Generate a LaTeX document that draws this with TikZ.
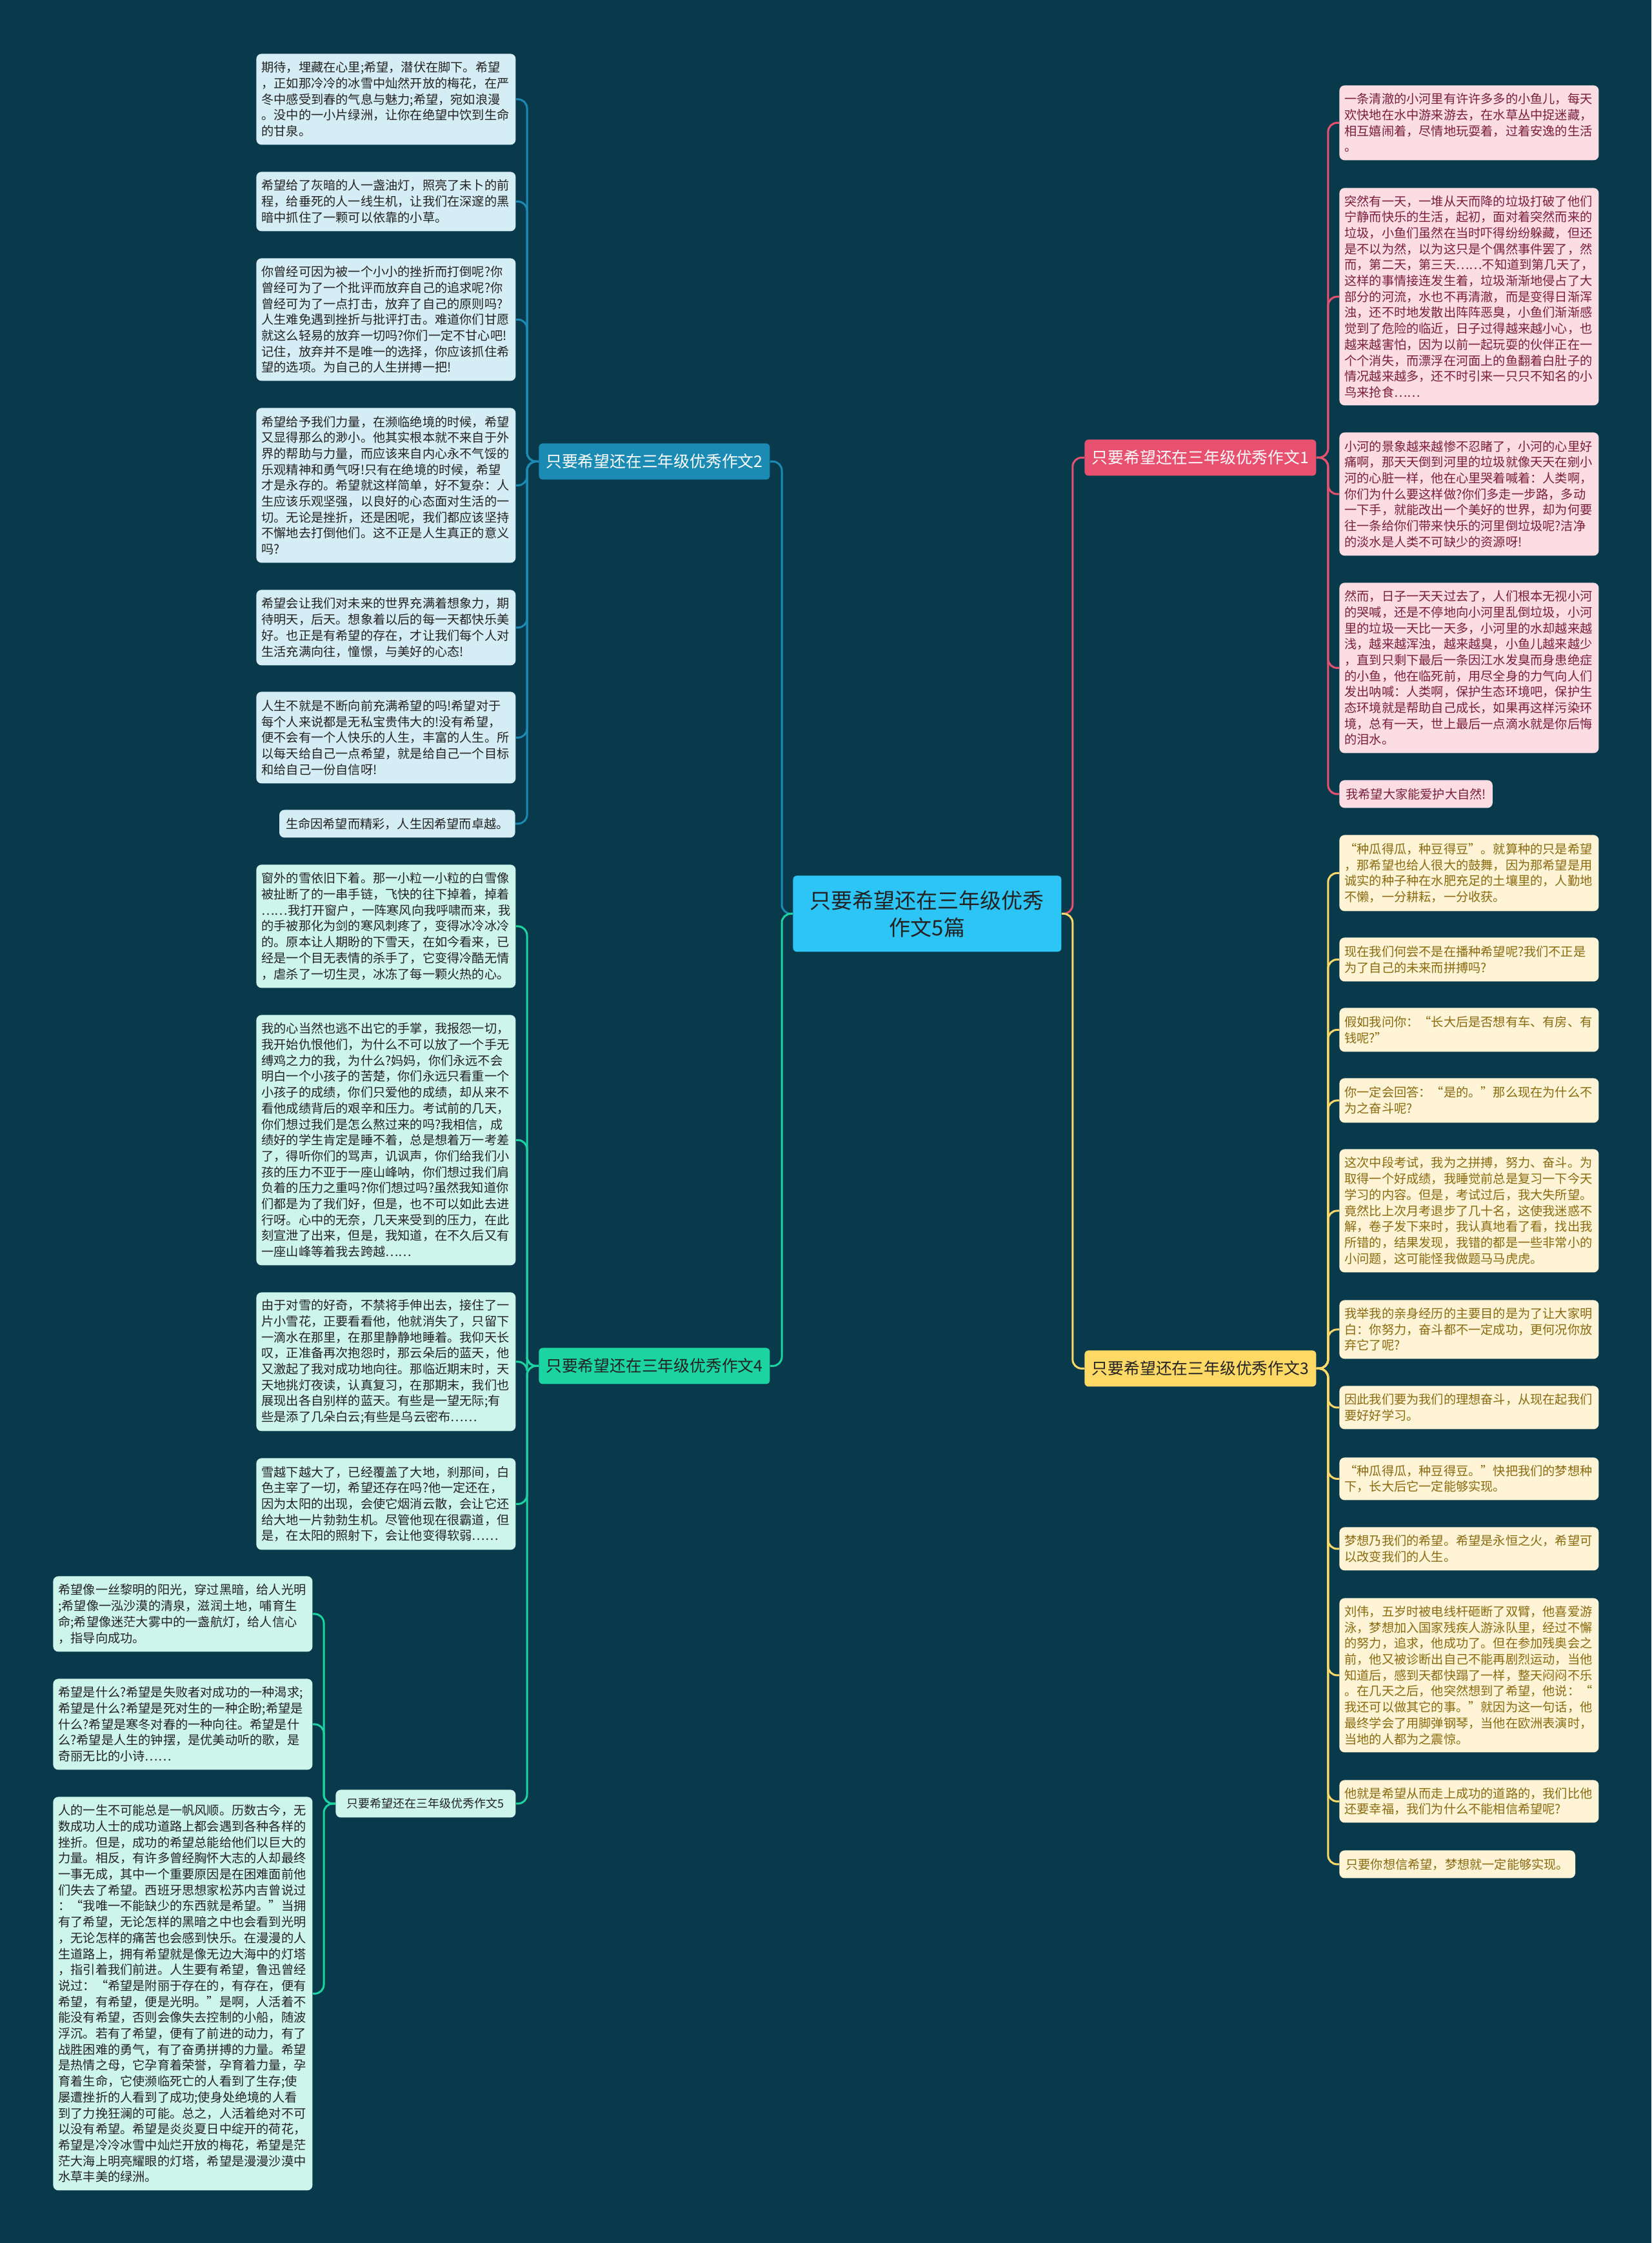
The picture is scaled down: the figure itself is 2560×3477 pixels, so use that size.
\documentclass[tikz,border=0pt]{standalone}
\usepackage{fontspec}
\setmainfont{Noto Sans CJK SC}
\definecolor{bg}{HTML}{093A4B}
\definecolor{cc}{HTML}{2DC5F5}
\definecolor{bl}{HTML}{1B8BB4}
\definecolor{blf}{HTML}{D5EDF4}
\definecolor{pk}{HTML}{E8506F}
\definecolor{pkf}{HTML}{FCDDE3}
\definecolor{pkt}{HTML}{7A1E3E}
\definecolor{yl}{HTML}{FFD966}
\definecolor{ylf}{HTML}{FFF4D6}
\definecolor{ylt}{HTML}{8A6A10}
\definecolor{gr}{HTML}{1BD4A1}
\definecolor{grf}{HTML}{CDF5EC}
\definecolor{dk}{HTML}{222222}
\tikzset{
 leafbox/.style={rounded corners=4pt, inner xsep=4pt, inner ysep=0pt, text width=193pt, align=left, font=\fontsize{9.6}{12.35}\selectfont},
 leafone/.style={rounded corners=4pt, inner xsep=5pt, inner ysep=0pt, font=\fontsize{9.6}{12.35}\selectfont},
 lb/.style={fill=blf, text=dk},
 lp/.style={fill=pkf, text=pkt},
 ly/.style={fill=ylf, text=ylt},
 lg/.style={fill=grf, text=dk},
 branch/.style={rounded corners=3pt, inner sep=0pt, minimum width=179pt, minimum height=28pt, font=\fontsize{12.4}{15}\selectfont, anchor=north west},
 conn/.style={line width=1.5pt, rounded corners=7pt},
}
\newcommand{\leafnode}[6]{\node[leafbox,#1,minimum height={(#5-#4)*0.5pt},anchor=north west] (#2) at (#3,#4) {#6};}
\begin{document}
\begin{tikzpicture}[x=0.5pt,y=-0.5pt]
\useasboundingbox (0,0) rectangle (2560,3477);
\fill[bg] (0,0) rectangle (2560,3477);

% center
\node[fill=cc, rounded corners=3pt, minimum width=208pt, minimum height=59pt, anchor=north west, align=center, font=\fontsize{16.5}{21}\selectfont, text=dk, inner sep=0pt] (c) at (1229,1357) {只要希望还在三年级优秀\\作文5篇};

% branches
\node[branch, fill=bl, text=white] (b2l) at (835,687) {只要希望还在三年级优秀作文2};
\node[branch, fill=gr, text=dk] (b4l) at (835,2089) {只要希望还在三年级优秀作文4};
\node[branch, fill=pk, text=white, minimum width=179.5pt] (b1l) at (1681,681) {只要希望还在三年级优秀作文1};
\node[branch, fill=yl, text=dk, minimum width=179.5pt] (b3l) at (1681,2093) {只要希望还在三年级优秀作文3};

% branch 2 leaves
\leafnode{lb}{a1}{397}{83}{224}{期待，埋藏在心里;希望，潜伏在脚下。希望\\，正如那冷冷的冰雪中灿然开放的梅花，在严\\冬中感受到春的气息与魅力;希望，宛如浪漫\\。没中的一小片绿洲，让你在绝望中饮到生命\\的甘泉。}
\leafnode{lb}{a2}{397}{266}{358}{希望给了灰暗的人一盏油灯，照亮了未卜的前\\程，给垂死的人一线生机，让我们在深邃的黑\\暗中抓住了一颗可以依靠的小草。}
\leafnode{lb}{a3}{397}{400}{590}{你曾经可因为被一个小小的挫折而打倒呢?你\\曾经可为了一个批评而放弃自己的追求呢?你\\曾经可为了一点打击，放弃了自己的原则吗?\\人生难免遇到挫折与批评打击。难道你们甘愿\\就这么轻易的放弃一切吗?你们一定不甘心吧!\\记住，放弃并不是唯一的选择，你应该抓住希\\望的选项。为自己的人生拼搏一把!}
\leafnode{lb}{a4}{397}{632}{872}{希望给予我们力量，在濒临绝境的时候，希望\\又显得那么的渺小。他其实根本就不来自于外\\界的帮助与力量，而应该来自内心永不气馁的\\乐观精神和勇气呀!只有在绝境的时候，希望\\才是永存的。希望就这样简单，好不复杂：人\\生应该乐观坚强，以良好的心态面对生活的一\\切。无论是挫折，还是困呢，我们都应该坚持\\不懈地去打倒他们。这不正是人生真正的意义\\吗?}
\leafnode{lb}{a5}{397}{914}{1031}{希望会让我们对未来的世界充满着想象力，期\\待明天，后天。想象着以后的每一天都快乐美\\好。也正是有希望的存在，才让我们每个人对\\生活充满向往，憧憬，与美好的心态!}
\leafnode{lb}{a6}{397}{1072}{1214}{人生不就是不断向前充满希望的吗!希望对于\\每个人来说都是无私宝贵伟大的!没有希望，\\便不会有一个人快乐的人生，丰富的人生。所\\以每天给自己一点希望，就是给自己一个目标\\和给自己一份自信呀!}
\node[leafone, lb, minimum height=21.5pt, anchor=north east] (a7) at (799,1255) {生命因希望而精彩，人生因希望而卓越。};

% branch 4 leaves
\leafnode{lg}{b1}{397}{1340}{1531}{窗外的雪依旧下着。那一小粒一小粒的白雪像\\被扯断了的一串手链，飞快的往下掉着，掉着\\……我打开窗户，一阵寒风向我呼啸而来，我\\的手被那化为剑的寒风刺疼了，变得冰冷冰冷\\的。原本让人期盼的下雪天，在如今看来，已\\经是一个目无表情的杀手了，它变得冷酷无情\\，虐杀了一切生灵，冰冻了每一颗火热的心。}
\leafnode{lg}{b2}{397}{1573}{1961}{我的心当然也逃不出它的手掌，我报怨一切，\\我开始仇恨他们，为什么不可以放了一个手无\\缚鸡之力的我，为什么?妈妈，你们永远不会\\明白一个小孩子的苦楚，你们永远只看重一个\\小孩子的成绩，你们只爱他的成绩，却从来不\\看他成绩背后的艰辛和压力。考试前的几天，\\你们想过我们是怎么熬过来的吗?我相信，成\\绩好的学生肯定是睡不着，总是想着万一考差\\了，得听你们的骂声，讥讽声，你们给我们小\\孩的压力不亚于一座山峰呐，你们想过我们肩\\负着的压力之重吗?你们想过吗?虽然我知道你\\们都是为了我们好，但是，也不可以如此去进\\行呀。心中的无奈，几天来受到的压力，在此\\刻宣泄了出来，但是，我知道，在不久后又有\\一座山峰等着我去跨越……}
\leafnode{lg}{b3}{397}{2003}{2218}{由于对雪的好奇，不禁将手伸出去，接住了一\\片小雪花，正要看看他，他就消失了，只留下\\一滴水在那里，在那里静静地睡着。我仰天长\\叹，正准备再次抱怨时，那云朵后的蓝天，他\\又激起了我对成功地向往。那临近期末时，天\\天地挑灯夜读，认真复习，在那期末，我们也\\展现出各自别样的蓝天。有些是一望无际;有\\些是添了几朵白云;有些是乌云密布……}
\leafnode{lg}{b4}{397}{2260}{2402}{雪越下越大了，已经覆盖了大地，刹那间，白\\色主宰了一切，希望还存在吗?他一定还在，\\因为太阳的出现，会使它烟消云散，会让它还\\给大地一片勃勃生机。尽管他现在很霸道，但\\是，在太阳的照射下，会让他变得软弱……}
\node[leafone, lg, minimum height=21.5pt, minimum width=139.5pt, anchor=north west, font=\fontsize{9}{11}\selectfont] (b5l) at (520,2774) {只要希望还在三年级优秀作文5};

% branch 5 leaves
\leafnode{lg}{c1}{82}{2443}{2560}{希望像一丝黎明的阳光，穿过黑暗，给人光明\\;希望像一泓沙漠的清泉，滋润土地，哺育生\\命;希望像迷茫大雾中的一盏航灯，给人信心\\，指导向成功。}
\leafnode{lg}{c2}{82}{2602}{2743}{希望是什么?希望是失败者对成功的一种渴求;\\希望是什么?希望是死对生的一种企盼;希望是\\什么?希望是寒冬对春的一种向往。希望是什\\么?希望是人生的钟摆，是优美动听的歌，是\\奇丽无比的小诗……}
\leafnode{lg}{c3}{82}{2785}{3395}{人的一生不可能总是一帆风顺。历数古今，无\\数成功人士的成功道路上都会遇到各种各样的\\挫折。但是，成功的希望总能给他们以巨大的\\力量。相反，有许多曾经胸怀大志的人却最终\\一事无成，其中一个重要原因是在困难面前他\\们失去了希望。西班牙思想家松苏内吉曾说过\\：“我唯一不能缺少的东西就是希望。”当拥\\有了希望，无论怎样的黑暗之中也会看到光明\\，无论怎样的痛苦也会感到快乐。在漫漫的人\\生道路上，拥有希望就是像无边大海中的灯塔\\，指引着我们前进。人生要有希望，鲁迅曾经\\说过：“希望是附丽于存在的，有存在，便有\\希望，有希望，便是光明。”是啊，人活着不\\能没有希望，否则会像失去控制的小船，随波\\浮沉。若有了希望，便有了前进的动力，有了\\战胜困难的勇气，有了奋勇拼搏的力量。希望\\是热情之母，它孕育着荣誉，孕育着力量，孕\\育着生命，它使濒临死亡的人看到了生存;使\\屡遭挫折的人看到了成功;使身处绝境的人看\\到了力挽狂澜的可能。总之，人活着绝对不可\\以没有希望。希望是炎炎夏日中绽开的荷花，\\希望是冷冷冰雪中灿烂开放的梅花，希望是茫\\茫大海上明亮耀眼的灯塔，希望是漫漫沙漠中\\水草丰美的绿洲。}

% branch 1 leaves
\leafnode{lp}{d1}{2076}{132}{248}{一条清澈的小河里有许许多多的小鱼儿，每天\\欢快地在水中游来游去，在水草丛中捉迷藏，\\相互嬉闹着，尽情地玩耍着，过着安逸的生活\\。}
\leafnode{lp}{d2}{2076}{291}{628}{突然有一天，一堆从天而降的垃圾打破了他们\\宁静而快乐的生活，起初，面对着突然而来的\\垃圾，小鱼们虽然在当时吓得纷纷躲藏，但还\\是不以为然，以为这只是个偶然事件罢了，然\\而，第二天，第三天……不知道到第几天了，\\这样的事情接连发生着，垃圾渐渐地侵占了大\\部分的河流，水也不再清澈，而是变得日渐浑\\浊，还不时地发散出阵阵恶臭，小鱼们渐渐感\\觉到了危险的临近，日子过得越来越小心，也\\越来越害怕，因为以前一起玩耍的伙伴正在一\\个个消失，而漂浮在河面上的鱼翻着白肚子的\\情况越来越多，还不时引来一只只不知名的小\\鸟来抢食……}
\leafnode{lp}{d3}{2076}{670}{861}{小河的景象越来越惨不忍睹了，小河的心里好\\痛啊，那天天倒到河里的垃圾就像天天在剜小\\河的心脏一样，他在心里哭着喊着：人类啊，\\你们为什么要这样做?你们多走一步路，多动\\一下手，就能改出一个美好的世界，却为何要\\往一条给你们带来快乐的河里倒垃圾呢?洁净\\的淡水是人类不可缺少的资源呀!}
\leafnode{lp}{d4}{2076}{903}{1167}{然而，日子一天天过去了，人们根本无视小河\\的哭喊，还是不停地向小河里乱倒垃圾，小河\\里的垃圾一天比一天多，小河里的水却越来越\\浅，越来越浑浊，越来越臭，小鱼儿越来越少\\，直到只剩下最后一条因江水发臭而身患绝症\\的小鱼，他在临死前，用尽全身的力气向人们\\发出呐喊：人类啊，保护生态环境吧，保护生\\态环境就是帮助自己成长，如果再这样污染环\\境，总有一天，世上最后一点滴水就是你后悔\\的泪水。}
\node[leafone, lp, minimum height=21.5pt, anchor=north west] (d5) at (2076,1209) {我希望大家能爱护大自然!};

% branch 3 leaves
\leafnode{ly}{e1}{2076}{1294}{1412}{“种瓜得瓜，种豆得豆”。就算种的只是希望\\，那希望也给人很大的鼓舞，因为那希望是用\\诚实的种子种在水肥充足的土壤里的，人勤地\\不懒，一分耕耘，一分收获。}
\leafnode{ly}{e2}{2076}{1453}{1521}{现在我们何尝不是在播种希望呢?我们不正是\\为了自己的未来而拼搏吗?}
\leafnode{ly}{e3}{2076}{1562}{1630}{假如我问你：“长大后是否想有车、有房、有\\钱呢?”}
\leafnode{ly}{e4}{2076}{1671}{1740}{你一定会回答：“是的。”那么现在为什么不\\为之奋斗呢?}
\leafnode{ly}{e5}{2076}{1781}{1972}{这次中段考试，我为之拼搏，努力、奋斗。为\\取得一个好成绩，我睡觉前总是复习一下今天\\学习的内容。但是，考试过后，我大失所望。\\竟然比上次月考退步了几十名，这使我迷惑不\\解，卷子发下来时，我认真地看了看，找出我\\所错的，结果发现，我错的都是一些非常小的\\小问题，这可能怪我做题马马虎虎。}
\leafnode{ly}{e6}{2076}{2015}{2106}{我举我的亲身经历的主要目的是为了让大家明\\白：你努力，奋斗都不一定成功，更何况你放\\弃它了呢?}
\leafnode{ly}{e7}{2076}{2148}{2215}{因此我们要为我们的理想奋斗，从现在起我们\\要好好学习。}
\leafnode{ly}{e8}{2076}{2259}{2325}{“种瓜得瓜，种豆得豆。”快把我们的梦想种\\下，长大后它一定能够实现。}
\leafnode{ly}{e9}{2076}{2367}{2434}{梦想乃我们的希望。希望是永恒之火，希望可\\以改变我们的人生。}
\leafnode{ly}{e10}{2076}{2477}{2716}{刘伟，五岁时被电线杆砸断了双臂，他喜爱游\\泳，梦想加入国家残疾人游泳队里，经过不懈\\的努力，追求，他成功了。但在参加残奥会之\\前，他又被诊断出自己不能再剧烈运动，当他\\知道后，感到天都快蹋了一样，整天闷闷不乐\\。在几天之后，他突然想到了希望，他说：“\\我还可以做其它的事。”就因为这一句话，他\\最终学会了用脚弹钢琴，当他在欧洲表演时，\\当地的人都为之震惊。}
\leafnode{ly}{e11}{2076}{2759}{2825}{他就是希望从而走上成功的道路的，我们比他\\还要幸福，我们为什么不能相信希望呢?}
\node[leafone, ly, minimum height=21.5pt, anchor=north west] (e12) at (2076,2868) {只要你想信希望，梦想就一定能够实现。};

% connectors
\draw[conn,bl] (c.west) -- ++(-17,0) |- (b2l.east);
\draw[conn,gr] (c.west) -- ++(-17,0) |- (b4l.east);
\draw[conn,pk] (c.east) -- ++(17,0) |- (b1l.west);
\draw[conn,yl] (c.east) -- ++(17,0) |- (b3l.west);
\foreach \nm in {a1,a2,a3,a4,a5,a6,a7}{\draw[conn,bl] (b2l.west) -- ++(-18,0) |- (\nm.east);}
\foreach \nm in {b1,b2,b3,b4,b5l}{\draw[conn,gr] (b4l.west) -- ++(-18,0) |- (\nm.east);}
\foreach \nm in {c1,c2,c3}{\draw[conn,gr] (b5l.west) -- ++(-18,0) |- (\nm.east);}
\foreach \nm in {d1,d2,d3,d4,d5}{\draw[conn,pk] (b1l.east) -- ++(18,0) |- (\nm.west);}
\foreach \nm in {e1,e2,e3,e4,e5,e6,e7,e8,e9,e10,e11,e12}{\draw[conn,yl] (b3l.east) -- ++(18,0) |- (\nm.west);}
\end{tikzpicture}
\end{document}
